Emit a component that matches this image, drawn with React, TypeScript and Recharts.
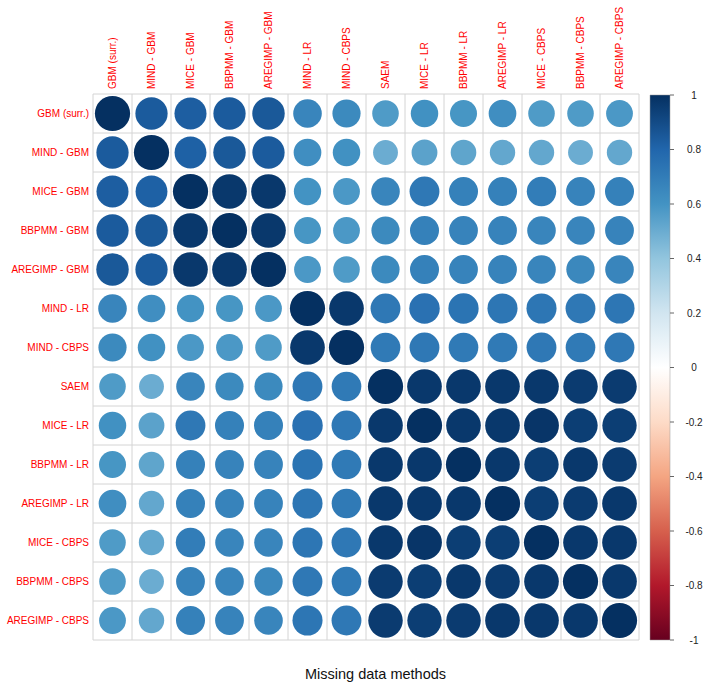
import React from 'react';
import {
  ScatterChart,
  Scatter,
  XAxis,
  YAxis,
  ZAxis,
  Cell,
  ReferenceLine,
  BarChart,
  Bar,
} from 'recharts';

const methods = [
  'GBM (surr.)',
  'MIND - GBM',
  'MICE - GBM',
  'BBPMM - GBM',
  'AREGIMP - GBM',
  'MIND - LR',
  'MIND - CBPS',
  'SAEM',
  'MICE - LR',
  'BBPMM - LR',
  'AREGIMP - LR',
  'MICE - CBPS',
  'BBPMM - CBPS',
  'AREGIMP - CBPS',
];

// correlation matrix, row by row (same order as methods)
const corr = [
  [1, 0.84, 0.83, 0.84, 0.85, 0.66, 0.64, 0.57, 0.61, 0.59, 0.62, 0.57, 0.57, 0.58],
  [0.84, 1, 0.82, 0.85, 0.84, 0.62, 0.61, 0.5, 0.54, 0.53, 0.52, 0.52, 0.5, 0.52],
  [0.83, 0.82, 1, 0.97, 0.97, 0.6, 0.58, 0.66, 0.72, 0.68, 0.68, 0.7, 0.67, 0.68],
  [0.84, 0.85, 0.97, 1, 0.97, 0.59, 0.58, 0.64, 0.68, 0.67, 0.67, 0.66, 0.66, 0.67],
  [0.85, 0.84, 0.97, 0.97, 1, 0.58, 0.57, 0.64, 0.68, 0.67, 0.67, 0.66, 0.65, 0.66],
  [0.66, 0.62, 0.6, 0.59, 0.58, 1, 0.97, 0.72, 0.75, 0.74, 0.73, 0.73, 0.72, 0.73],
  [0.64, 0.61, 0.58, 0.58, 0.57, 0.97, 1, 0.71, 0.72, 0.71, 0.71, 0.72, 0.71, 0.72],
  [0.57, 0.5, 0.66, 0.64, 0.64, 0.72, 0.71, 1, 0.97, 0.97, 0.97, 0.97, 0.96, 0.96],
  [0.61, 0.54, 0.72, 0.68, 0.68, 0.75, 0.72, 0.97, 1, 0.97, 0.97, 0.98, 0.95, 0.95],
  [0.59, 0.53, 0.68, 0.67, 0.67, 0.74, 0.71, 0.97, 0.97, 1, 0.97, 0.95, 0.97, 0.96],
  [0.62, 0.52, 0.68, 0.67, 0.67, 0.73, 0.71, 0.97, 0.97, 0.97, 1, 0.95, 0.96, 0.97],
  [0.57, 0.52, 0.7, 0.66, 0.66, 0.73, 0.72, 0.97, 0.98, 0.95, 0.95, 1, 0.97, 0.97],
  [0.57, 0.5, 0.67, 0.66, 0.65, 0.72, 0.71, 0.96, 0.95, 0.97, 0.96, 0.97, 1, 0.97],
  [0.58, 0.52, 0.68, 0.67, 0.66, 0.73, 0.72, 0.96, 0.95, 0.96, 0.97, 0.97, 0.97, 1],
];

const colorTicks = [-1, -0.8, -0.6, -0.4, -0.2, 0, 0.2, 0.4, 0.6, 0.8, 1];

// RdBu palette used by corrplot, from -1 to 1
const palette = [
  '#67001F', '#B2182B', '#D6604D', '#F4A582', '#FDDBC7', '#FFFFFF',
  '#D1E5F0', '#92C5DE', '#4393C3', '#2166AC', '#053061',
];

const hexToRgb = (h: string) => [
  parseInt(h.slice(1, 3), 16),
  parseInt(h.slice(3, 5), 16),
  parseInt(h.slice(5, 7), 16),
];

const corrColor = (v: number) => {
  const t = ((v + 1) / 2) * (palette.length - 1);
  const i = Math.min(Math.floor(t), palette.length - 2);
  const f = t - i;
  const a = hexToRgb(palette[i]);
  const b = hexToRgb(palette[i + 1]);
  const c = a.map((x, k) => Math.round(x + (b[k] - x) * f));
  return `rgb(${c[0]},${c[1]},${c[2]})`;
};

const points = corr.flatMap((row, i) =>
  row.map((v, j) => ({ x: j, y: i, v, size: Math.abs(v) }))
);

const idx = methods.map((_, i) => i);
const bounds = [...idx, methods.length].map(i => i - 0.5);

const FONT = '"Liberation Sans", Arial, sans-serif';
const W = 712;
const H = 694;
const MAX_R = 17.6;

const ColTick = (props: any) => {
  const { x, y, payload } = props;
  return (
    <text
      x={x}
      y={y}
      dy="0.35em"
      transform={`rotate(-90, ${x}, ${y})`}
      textAnchor="start"
      fill="#FF0000"
      fontSize={10}
      fontFamily={FONT}
    >
      {methods[payload.value]}
    </text>
  );
};

const RowTick = (props: any) => {
  const { x, y, payload } = props;
  return (
    <text
      x={x}
      y={y}
      dy="0.35em"
      textAnchor="end"
      fill="#FF0000"
      fontSize={10}
      fontFamily={FONT}
    >
      {methods[payload.value]}
    </text>
  );
};

const BarTick = (props: any) => {
  const { x, y, payload } = props;
  return (
    <text
      x={x}
      y={y}
      dy="0.35em"
      textAnchor="middle"
      fill="#222"
      fontSize={10}
      fontFamily={FONT}
    >
      {String(payload.value)}
    </text>
  );
};

const App: React.FC = () => {
  return (
    <div
      style={{
        position: 'absolute',
        left: 0,
        top: 0,
        width: W,
        height: H,
        background: '#fff',
        fontFamily: FONT,
      }}
    >
      <div style={{ position: 'absolute', left: 0, top: 0 }}>
        <ScatterChart
          width={W}
          height={H}
          margin={{ top: 0, left: 0, right: 73, bottom: 54 }}
        >
          <XAxis
            type="number"
            dataKey="x"
            orientation="top"
            height={94}
            domain={[-0.5, 13.5]}
            ticks={idx}
            interval={0}
            tick={<ColTick />}
            tickSize={0}
            tickMargin={5}
            axisLine={false}
            tickLine={false}
          />
          <YAxis
            type="number"
            dataKey="y"
            width={93}
            reversed
            domain={[-0.5, 13.5]}
            ticks={idx}
            interval={0}
            tick={<RowTick />}
            tickSize={0}
            tickMargin={4}
            axisLine={false}
            tickLine={false}
          />
          <ZAxis
            type="number"
            dataKey="size"
            domain={[0, 1]}
            range={[0, Math.PI * MAX_R * MAX_R]}
          />
          {bounds.map(b => (
            <ReferenceLine key={`vx-${b}`} x={b} stroke="#d4d4d4" strokeWidth={1} />
          ))}
          {bounds.map(b => (
            <ReferenceLine key={`hy-${b}`} y={b} stroke="#d4d4d4" strokeWidth={1} />
          ))}
          <Scatter data={points} isAnimationActive={false}>
            {points.map((p, k) => (
              <Cell key={`c-${k}`} fill={corrColor(p.v)} />
            ))}
          </Scatter>
        </ScatterChart>
      </div>

      <div style={{ position: 'absolute', left: 0, top: 0 }}>
        <BarChart
          width={W}
          height={H}
          data={[{ name: 'scale', range: [-1, 1] }]}
          margin={{ top: 95, left: 650, right: 0, bottom: 54 }}
          barCategoryGap={0}
        >
          <defs>
            <linearGradient id="cbGrad" x1="0" y1="1" x2="0" y2="0">
              {palette.map((c, i) => (
                <stop key={c + i} offset={`${(i / (palette.length - 1)) * 100}%`} stopColor={c} />
              ))}
            </linearGradient>
          </defs>
          <XAxis dataKey="name" hide />
          <YAxis
            orientation="right"
            width={42}
            type="number"
            domain={[-1, 1]}
            ticks={colorTicks}
            interval={0}
            tick={<BarTick />}
            tickSize={4}
            tickMargin={20}
            axisLine={false}
            tickLine={{ stroke: '#666' }}
          />
          <Bar
            dataKey="range"
            fill="url(#cbGrad)"
            stroke="#999"
            strokeWidth={0.5}
            isAnimationActive={false}
          />
        </BarChart>
      </div>

      <div
        style={{
          position: 'absolute',
          left: 93,
          width: 565,
          top: 666,
          textAlign: 'center',
          fontSize: 14.5,
          color: '#111',
        }}
      >
        Missing data methods
      </div>
    </div>
  );
};

export default App;
